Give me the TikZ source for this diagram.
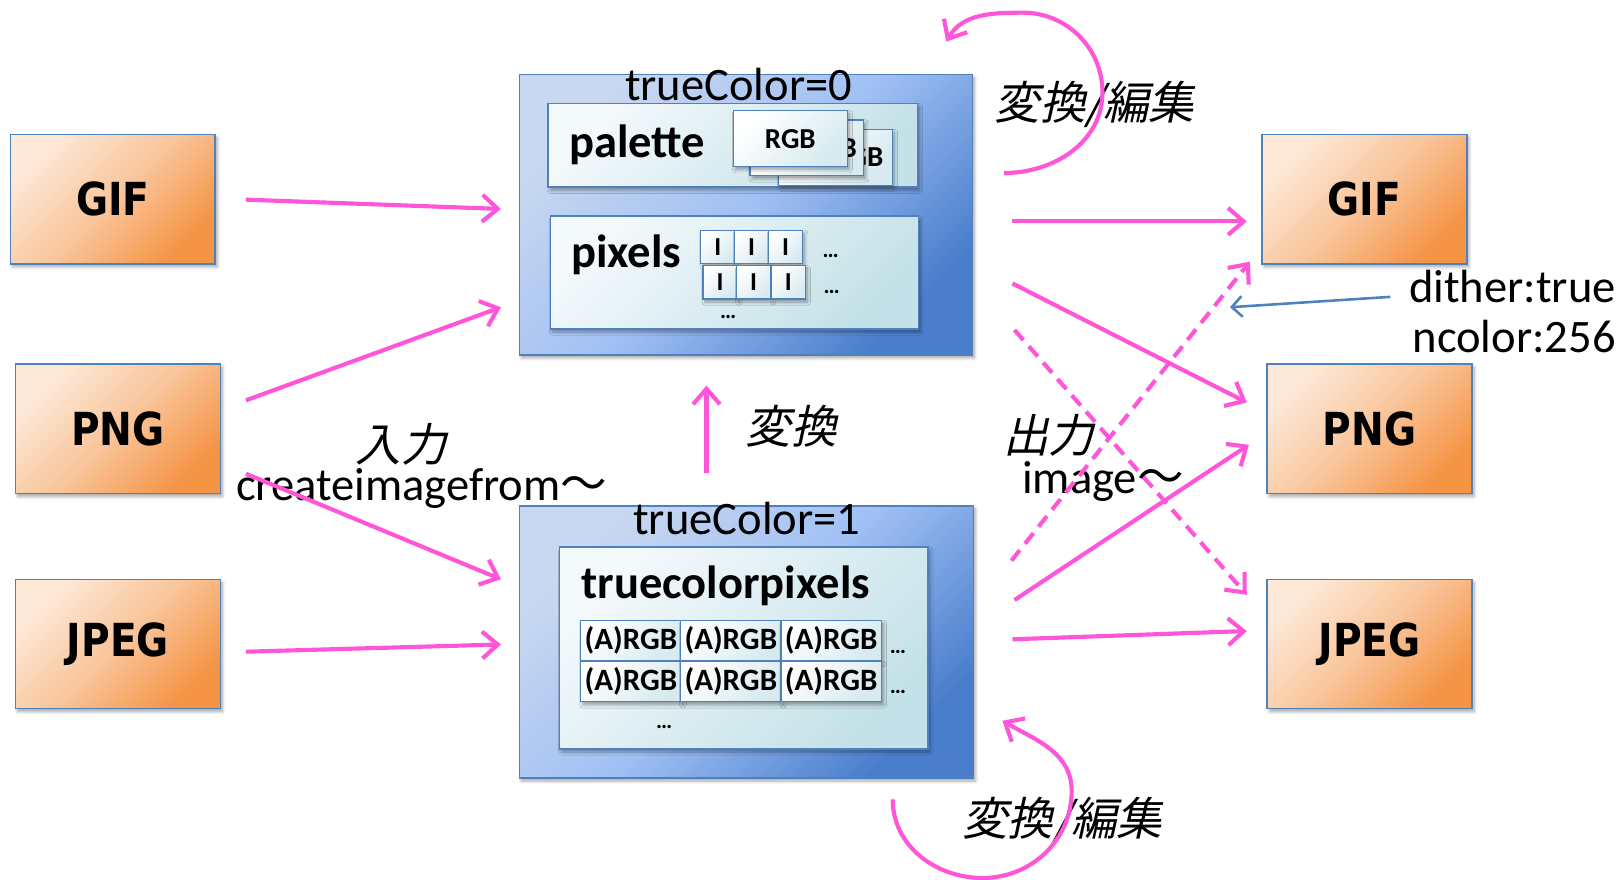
\documentclass[tikz,border=0pt]{standalone}
\usepackage{fontspec}
\setmainfont{Carlito}
\newfontfamily\fmtfont[FakeStretch=0.86]{DejaVu Sans}
\newfontfamily\jpfont[FakeSlant=0.22]{Noto Sans CJK JP}
\newfontfamily\cjk{Noto Sans CJK JP}
\usetikzlibrary{arrows.meta,shadows.blur}

\definecolor{edge}{HTML}{4F81BD}
\definecolor{mag}{HTML}{FF55D8}
\definecolor{orL}{HTML}{FDE9D8}
\definecolor{orM}{HTML}{F9C59B}
\definecolor{orD}{HTML}{F59445}
\definecolor{bluL}{HTML}{C8D8F0}
\definecolor{bluM}{HTML}{A0C0F4}
\definecolor{bluD}{HTML}{4A7ECC}
\definecolor{inL}{HTML}{F4F9FC}
\definecolor{inD}{HTML}{C3E1E8}
\definecolor{cellD}{HTML}{D6EAF0}

\tikzset{
  shadowed/.style={blur shadow={shadow xshift=2pt, shadow yshift=-3pt,
      shadow blur steps=6, shadow blur radius=3pt, shadow opacity=35}},
  fmt/.style={draw=edge, line width=1.5pt, minimum width=198pt, minimum height=125pt,
      inner sep=0pt, top color=orL, bottom color=orD, middle color=orM,
      shading angle=45, shadowed,
      font=\fmtfont\bfseries\fontsize{44}{50}\selectfont},
  container/.style={draw=edge, line width=1.5pt, inner sep=0pt,
      top color=bluL, bottom color=bluD, middle color=bluM, shading angle=45, shadowed},
  panel/.style={draw=edge, line width=1.5pt, inner sep=0pt,
      top color=inL, bottom color=inD, shading angle=45, shadowed},
  cellbox/.style={draw=edge, line width=1.2pt, inner sep=0pt,
      top color=white, bottom color=cellD, shading angle=45, shadowed},
  lbl/.style={inner sep=0pt, font=\fontsize{45}{50}\selectfont},
  heading/.style={inner sep=0pt, font=\bfseries\fontsize{45}{50}\selectfont},
  jlbl/.style={inner sep=0pt, font=\jpfont\fontsize{44}{50}\selectfont},
  dots/.style={inner sep=0pt, font=\bfseries\fontsize{22}{24}\selectfont},
  arr/.style={draw=mag, line width=4pt,
      -{Straight Barb[length=15pt,width=26pt]}},
  darr/.style={arr, dash pattern=on 13pt off 8pt},
  note/.style={draw=edge, line width=2.5pt,
      -{Straight Barb[length=10pt,width=20pt]}},
}

\begin{document}
\begin{tikzpicture}[x=1pt,y=-1pt]
\useasboundingbox (0,0) rectangle (1568,850);

% image formats on both sides
\node[fmt] (lgif)  at (109,192.5) {GIF};
\node[fmt] (lpng)  at (114,414.5) {PNG};
\node[fmt] (ljpeg) at (114,622.5) {JPEG};
\node[fmt] (rgif)  at (1319,192.5) {GIF};
\node[fmt] (rpng)  at (1324,414.5) {PNG};
\node[fmt] (rjpeg) at (1324,622.5) {JPEG};

% palette image (trueColor=0)
\node[container, minimum width=438pt, minimum height=271pt] (top) at (721,207.5) {};
\node[panel, minimum width=357pt, minimum height=81pt] (pal) at (708.5,140.5) {};
\node[heading, anchor=base west] (paltxt) at (550,152) {palette};
\node[cellbox, minimum width=110pt, minimum height=54pt] (card3) at (807.5,152) {};
\node[inner sep=0pt, anchor=east, font=\bfseries\fontsize{28}{30}\selectfont]
  at ([xshift=-9pt]card3.east) {RGB};
\node[cellbox, minimum width=110pt, minimum height=54pt] (card2) at (780,143) {};
\node[inner sep=0pt, anchor=east, font=\bfseries\fontsize{28}{30}\selectfont]
  at ([xshift=-7pt]card2.east) {RGB};
\node[cellbox, minimum width=110pt, minimum height=54pt,
      font=\bfseries\fontsize{28}{30}\selectfont] (card1) at (764,134) {RGB};

\node[panel, minimum width=356pt, minimum height=109pt] (pix) at (710,263.5) {};
\node[heading, anchor=base west] (pixtxt) at (552,259) {pixels};
\foreach \cx/\nm in {694/a,726.5/b,759.5/c}
  \node[cellbox, minimum width=33pt, minimum height=32pt,
        font=\bfseries\fontsize{25}{28}\selectfont] (i1\nm) at (\cx,238.5) {I};
\foreach \cx/\nm in {696/a,728.5/b,762/c}
  \node[cellbox, minimum width=33pt, minimum height=32pt,
        font=\bfseries\fontsize{25}{28}\selectfont] (i2\nm) at (\cx,273) {I};
\node[dots, anchor=base] (pd1) at (803,249) {…};
\node[dots, anchor=base] (pd2) at (804,284) {…};
\node[dots, anchor=base] (pd3) at (704,308) {…};
\node[lbl, anchor=base] (tc0) at (714,97) {trueColor=0};

% truecolor image (trueColor=1)
\node[container, minimum width=439pt, minimum height=263pt] (bot) at (721.5,620.5) {};
\node[panel, minimum width=356pt, minimum height=195pt] (tcp) at (719,626.5) {};
\node[heading, anchor=base west] (tcptxt) at (562,579) {truecolorpixels};
\foreach \cx/\nm in {610/a,706.5/b,803.5/c} {
  \node[cellbox, minimum width=97pt, minimum height=39pt,
        font=\bfseries\fontsize{30}{32}\selectfont] (r1\nm) at (\cx,619) {(A)RGB};
  \node[cellbox, minimum width=97pt, minimum height=39pt,
        font=\bfseries\fontsize{30}{32}\selectfont] (r2\nm) at (\cx,659) {(A)RGB};
}
\node[dots, anchor=base] (td1) at (868,632) {…};
\node[dots, anchor=base] (td2) at (868,670) {…};
\node[dots, anchor=base] (td3) at (642,704) {…};
\node[lbl, anchor=base] (tc1) at (722,517) {trueColor=1};

% labels
\node[jlbl] (inlbl) at (388,430) {入力};
\node[lbl, anchor=base west] (infn) at (228,484) {createimagefrom{\cjk ～}};
\node[jlbl] (cvlbl) at (765,412) {変換};
\node[jlbl] (outlbl) at (1014,421) {出力};
\node[lbl, anchor=base west] (outfn) at (988,477) {image{\cjk ～}};
\node[jlbl] (edtop) at (1058,101) {変換/編集};
\node[jlbl] (edbot) at (1027,793) {変換/編集};
\node[lbl, anchor=base east] (dither) at (1562,292) {dither:true};
\node[lbl, anchor=base east] (ncolor) at (1562,341) {ncolor:256};
\coordinate (ditherpt) at (1189,297);

% input arrows
\draw[arr] ([shift={(29,0.5)}]lgif.east) -- ([shift={(-17,-5.5)}]top.west);
\draw[arr] ([shift={(24,-27.5)}]lpng.east) -- ([shift={(-17,89.5)}]top.west);
\draw[arr] ([shift={(24,43.5)}]lpng.east) -- ([shift={(-17,-60.5)}]bot.west);
\draw[arr] ([shift={(24,7.5)}]ljpeg.east) -- ([shift={(-17,2.5)}]bot.west);

% conversion between the two representations
\draw[arr] ([shift={(-38.5,-31)}]bot.north) -- ([shift={(-38,29)}]top.south);

% output arrows
\draw[arr]  ([shift={(38,6.5)}]top.east)   -- ([shift={(-14,21.5)}]rgif.west);
\draw[arr]  ([shift={(38,66.5)}]top.east)  -- ([shift={(-19,-25.5)}]rpng.west);
\draw[darr] ([shift={(40,111.5)}]top.east) -- ([shift={(-19,-47.5)}]rjpeg.west);
\draw[darr] ([shift={(36,-78.5)}]bot.east) -- ([shift={(-11,60.5)}]rgif.west);
\draw[arr]  ([shift={(39,-40.5)}]bot.east) -- ([shift={(-17,15.5)}]rpng.west);
\draw[arr]  ([shift={(37,-2.5)}]bot.east)  -- ([shift={(-19,-12.5)}]rjpeg.west);

% dithering note
\draw[note] ([shift={(-18,-5)}]dither.base west) -- (ditherpt);

% edit loops
\draw[arr] ([shift={(30,96)}]top.north east)
  to[out=0,in=-90] ++(95,-78) to[out=90,in=0] ++(-77,-77) to[out=180,in=60] ++(-74,28);
\draw[arr] ([shift={(141.5,20)}]bot.south)
  to[out=-90,in=180] ++(87,76) to[out=0,in=-90] ++(86,-84) to[out=90,in=-30] ++(-67,-68);
\end{tikzpicture}
\end{document}
